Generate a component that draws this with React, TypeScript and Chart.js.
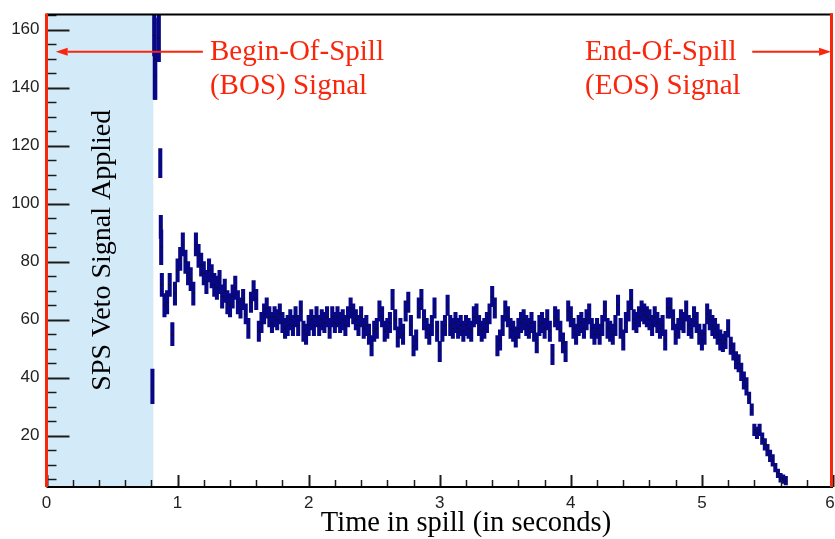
import React, { useEffect, useRef } from "react";
import { Chart, registerables } from "chart.js";

Chart.register(...registerables);

// ---------------- data ----------------
const X_TICKS = [0, 1, 2, 3, 4, 5, 6];
const Y_TICKS = [20, 40, 60, 80, 100, 120, 140, 160];
const X_MIN = 0;
const X_MAX = 6;
const Y_MIN = 2.3;
const Y_MAX = 165.6;

const X_TITLE = "Time in spill (in seconds)";
const VETO_LABEL = "SPS Veto Signal Applied";
const VETO_END = 0.815;
const BOS_LINES = ["Begin-Of-Spill", "(BOS) Signal"];
const EOS_LINES = ["End-Of-Spill", "(EOS) Signal"];

// first bins right after the veto (irregular, read individually)
const EARLY_TIMES = [0.808, 0.822, 0.826, 0.83, 0.857, 0.868, 0.872, 0.875];
const EARLY_VALUES = [37, 158, 150, 144, 157, 114, 92, 85];
const EARLY_ERRORS = [6, 7, 14, 8, 8, 5, 4, 6];

// regular bins from 0.88 s, one every 0.02 s
const MAIN_START = 0.88;
const MAIN_STEP = 0.02;
const MAIN_VALUES = [
  72, 65, 66, 72, 55, 69, 77, 81, 86, 80,
  76, 74, 69, 86, 82, 79, 76, 73, 77, 75,
  72, 71, 73, 68, 70, 66, 65, 68, 71, 66,
  64, 67, 62, 57, 66, 70, 67, 56, 59, 62,
  64, 61, 59, 61, 60, 62, 59, 57, 58, 60,
  58, 61, 58, 63, 56, 55, 58, 60, 58, 61,
  58, 60, 59, 61,
  57, 61, 59, 61, 59, 60, 58, 61, 64, 62,
  60, 58, 61, 57, 58, 55, 51, 56, 57, 63,
  61, 56, 57, 59, 67, 60, 54, 57, 55, 63,
  66, 58, 51, 53, 64, 67, 60, 57, 55, 58,
  64, 56, 49, 56, 58, 65, 58, 57, 59, 57,
  58, 56, 58, 57, 56, 61, 62, 58, 56, 57,
  59, 62, 68, 64, 51,
  53, 58, 63, 61, 57, 56, 54, 57, 59, 60,
  58, 57, 59, 56, 52, 58, 59, 57, 60, 56,
  48, 61, 60, 56, 52, 49, 63, 61, 57, 55,
  58, 59, 57, 60, 62, 57, 55, 57, 55, 58,
  63, 57, 56, 55, 58, 65, 57, 53, 59, 63,
  67, 60, 59, 61, 63, 62, 61, 60, 58, 61,
  59, 57, 58, 53, 64,
  64, 60, 55, 57, 60, 59, 63, 58, 57, 61,
  59, 55, 53, 55, 62, 60, 58, 57, 55, 53,
  52, 53, 57, 51, 49, 46, 45, 42, 39, 37,
  33, 29, 22, 21, 22, 19, 17, 15, 13, 11.5,
  9, 7, 5.5, 5, 4.5,
];
const MAIN_ERRORS = [
  4, 4, 4, 4, 4, 4, 4, 4, 4, 4,
  4, 4, 4, 4, 4, 4, 4, 4, 4, 4,
  4, 4, 4, 4, 4, 4, 4, 4, 4, 4,
  3.5, 3.5, 3.5, 3.5, 3.5, 3.5, 3.5, 3.5, 3.5, 3.5,
  3.5, 3.5, 3.5, 3.5, 3.5, 3.5, 3.5, 3.5, 3.5, 3.5,
  3.5, 3.5, 3.5, 3.5, 3.5, 3.5, 3.5, 3.5, 3.5, 3.5,
  3.5, 3.5, 3.5, 3.5,
  3.5, 3.5, 3.5, 3.5, 3.5, 3.5, 3.5, 3.5, 3.5, 3.5,
  3.5, 3.5, 3.5, 3.5, 3.5, 3.5, 3.5, 3.5, 3.5, 3.5,
  3.5, 3.5, 3.5, 3.5, 3.5, 3.5, 3.5, 3.5, 3.5, 3.5,
  3.5, 3.5, 3.5, 3.5, 3.5, 3.5, 3.5, 3.5, 3.5, 3.5,
  3.5, 3.5, 3.5, 3.5, 3.5, 3.5, 3.5, 3.5, 3.5, 3.5,
  3.5, 3.5, 3.5, 3.5, 3.5, 3.5, 3.5, 3.5, 3.5, 3.5,
  3.5, 3.5, 3.5, 3.5, 3.5,
  3.5, 3.5, 3.5, 3.5, 3.5, 3.5, 3.5, 3.5, 3.5, 3.5,
  3.5, 3.5, 3.5, 3.5, 3.5, 3.5, 3.5, 3.5, 3.5, 3.5,
  3.5, 3.5, 3.5, 3.5, 3.5, 3.5, 3.5, 3.5, 3.5, 3.5,
  3.5, 3.5, 3.5, 3.5, 3.5, 3.5, 3.5, 3.5, 3.5, 3.5,
  3.5, 3.5, 3.5, 3.5, 3.5, 3.5, 3.5, 3.5, 3.5, 3.5,
  3.5, 3.5, 3.5, 3.5, 3.5, 3.5, 3.5, 3.5, 3.5, 3.5,
  3.5, 3.5, 3.5, 3.5, 3.5,
  3.5, 3.5, 3.5, 3.5, 3.5, 3.5, 3.5, 3.5, 3.5, 3.5,
  3.5, 3.5, 3.5, 3.5, 3.5, 3.5, 3.5, 3.5, 3.5, 3.5,
  3, 3, 3, 3, 3, 3, 3, 3, 3, 3,
  2, 2, 2, 2, 2, 2, 2, 2, 2, 2,
  1.5, 1.5, 1.5, 1.5, 1.5,
];

// ---------------- style ----------------
const DATA_COLOR = "rgb(8,8,135)";
const VETO_COLOR = "#d3ebf8";
const RED = "rgb(250,38,12)";
const AXIS_COLOR = "#1c1c1c";
const SERIF = '"Liberation Serif", "Times New Roman", serif';
const SANS = '"Liberation Sans", Arial, Helvetica, sans-serif';

const mainTimes = MAIN_VALUES.map((_, i) => +(MAIN_START + i * MAIN_STEP).toFixed(3));
const allTimes = [...EARLY_TIMES, ...mainTimes];
const allValues = [...EARLY_VALUES, ...MAIN_VALUES];
const allErrors = [...EARLY_ERRORS, ...MAIN_ERRORS];

function drawArrow(ctx: CanvasRenderingContext2D, x1: number, x2: number, y: number) {
  const dir = Math.sign(x2 - x1);
  const head = 12;
  ctx.beginPath();
  ctx.moveTo(x1, y);
  ctx.lineTo(x2 - dir * head, y);
  ctx.stroke();
  ctx.beginPath();
  ctx.moveTo(x2, y);
  ctx.lineTo(x2 - dir * head, y - 4);
  ctx.lineTo(x2 - dir * head, y + 4);
  ctx.closePath();
  ctx.fill();
}

const decorPlugin = {
  id: "decor",
  beforeDatasetsDraw(chart: any) {
    const { ctx, chartArea: a, scales } = chart;
    const x = scales.x;
    ctx.save();
    ctx.fillStyle = VETO_COLOR;
    const xv = x.getPixelForValue(VETO_END);
    ctx.fillRect(a.left, a.top, xv - a.left, a.bottom - a.top);
    ctx.translate(110, (a.top + a.bottom) / 2);
    ctx.rotate(-Math.PI / 2);
    ctx.font = `28px ${SERIF}`;
    ctx.fillStyle = "#000";
    ctx.textAlign = "center";
    ctx.textBaseline = "alphabetic";
    ctx.fillText(VETO_LABEL, 0, 0);
    ctx.restore();
  },
  afterDatasetsDraw(chart: any) {
    const { ctx, chartArea: a, scales } = chart;
    const x = scales.x;
    const y = scales.y;
    ctx.save();
    // ticks (inward, ROOT style)
    ctx.strokeStyle = AXIS_COLOR;
    for (let i = 0; i <= 30; i++) {
      const v = i * 0.2;
      const px = Math.round(x.getPixelForValue(v)) + 0.5;
      const major = i % 5 === 0;
      ctx.lineWidth = major ? 2 : 1.5;
      ctx.beginPath();
      ctx.moveTo(px, a.bottom);
      ctx.lineTo(px, a.bottom - (major ? 12 : 7));
      ctx.stroke();
    }
    for (let v = 5; v <= Y_MAX; v += 5) {
      const py = Math.round(y.getPixelForValue(v)) + 0.5;
      const major = v % 20 === 0;
      ctx.lineWidth = major ? 2 : 1.5;
      ctx.beginPath();
      ctx.moveTo(a.left, py);
      ctx.lineTo(a.left + (major ? 23 : 10), py);
      ctx.stroke();
    }
    // x tick labels
    ctx.fillStyle = "#222";
    ctx.font = `17px ${SANS}`;
    ctx.textAlign = "center";
    ctx.textBaseline = "middle";
    X_TICKS.forEach((v) => ctx.fillText(String(v), Math.min(x.getPixelForValue(v), 830), a.bottom + 16));
    // frame
    ctx.strokeStyle = "#000";
    ctx.lineWidth = 2;
    ctx.beginPath();
    ctx.moveTo(a.left, a.top + 1);
    ctx.lineTo(a.right, a.top + 1);
    ctx.moveTo(a.left, a.bottom);
    ctx.lineTo(a.right, a.bottom);
    ctx.stroke();
    ctx.strokeStyle = RED;
    ctx.fillStyle = RED;
    ctx.lineWidth = 3;
    ctx.beginPath();
    ctx.moveTo(x.getPixelForValue(0), a.top);
    ctx.lineTo(x.getPixelForValue(0), a.bottom);
    ctx.moveTo(x.getPixelForValue(6) - 1.5, a.top);
    ctx.lineTo(x.getPixelForValue(6) - 1.5, a.bottom);
    ctx.stroke();
    // arrows
    ctx.lineWidth = 2.2;
    const ay = y.getPixelForValue(152.4);
    drawArrow(ctx, x.getPixelForValue(1.193), x.getPixelForValue(0.07), ay);
    drawArrow(ctx, x.getPixelForValue(5.384), x.getPixelForValue(5.985), ay);
    // red labels
    ctx.font = `29px ${SERIF}`;
    ctx.textAlign = "left";
    ctx.textBaseline = "alphabetic";
    BOS_LINES.forEach((t, i) => ctx.fillText(t, x.getPixelForValue(1.247), 60 + i * 34));
    EOS_LINES.forEach((t, i) => ctx.fillText(t, x.getPixelForValue(4.109), 60 + i * 34));
    // x title
    ctx.fillStyle = "#000";
    ctx.font = `28.5px ${SERIF}`;
    ctx.textAlign = "center";
    ctx.fillText(X_TITLE, 466, 531);
    ctx.restore();
  },
};

export default function App() {
  const ref = useRef<HTMLCanvasElement | null>(null);
  useEffect(() => {
    document.body.style.margin = "0";
    const canvas = ref.current;
    if (!canvas) return;
    const chart = new Chart(canvas, {
      type: "bar",
      data: {
        datasets: [
          {
            type: "bar",
            data: allTimes.map((t, i) => ({ x: t, y: [allValues[i] - allErrors[i], allValues[i] + allErrors[i]] })) as any,
            backgroundColor: DATA_COLOR,
            borderWidth: 0,
            barThickness: 3.4,
            order: 2,
          } as any,
          {
            type: "scatter",
            data: allTimes.map((t, i) => ({ x: t, y: allValues[i] })),
            pointStyle: "line",
            pointRadius: 1.3,
            pointHoverRadius: 1.3,
            borderColor: "#111",
            borderWidth: 1,
            backgroundColor: "#111",
            order: 1,
          } as any,
        ],
      },
      options: {
        responsive: false,
        animation: false,
        events: [],
        layout: { autoPadding: false, padding: { top: 13.5, right: 2, left: 0, bottom: 0 } },
        plugins: { legend: { display: false }, tooltip: { enabled: false } },
        scales: {
          x: {
            type: "linear",
            min: X_MIN,
            max: X_MAX,
            offset: false,
            grid: { display: false, drawTicks: false },
            border: { display: false },
            ticks: { display: false },
            afterBuildTicks: (s: any) => {
              s.ticks = X_TICKS.map((v) => ({ value: v }));
            },
            afterFit: (s: any) => {
              s.height = 52;
              s.paddingLeft = 0;
              s.paddingRight = 0;
            },
          },
          y: {
            type: "linear",
            min: Y_MIN,
            max: Y_MAX,
            grid: { display: false, drawTicks: false },
            border: { display: false },
            ticks: {
              font: { family: SANS, size: 17 },
              color: "#222",
              padding: 7,
              autoSkip: false,
              callback: (v: any) => String(v),
            },
            afterBuildTicks: (s: any) => {
              s.ticks = Y_TICKS.map((v) => ({ value: v }));
            },
            afterFit: (s: any) => {
              s.width = 46.5;
              s.paddingTop = 0;
              s.paddingBottom = 0;
            },
          },
        },
      } as any,
      plugins: [decorPlugin],
    });
    return () => chart.destroy();
  }, []);
  return (
    <div style={{ position: "absolute", left: 0, top: 0, width: 835, height: 539, background: "#fff" }}>
      <canvas ref={ref} width={835} height={539} style={{ display: "block" }} />
    </div>
  );
}
